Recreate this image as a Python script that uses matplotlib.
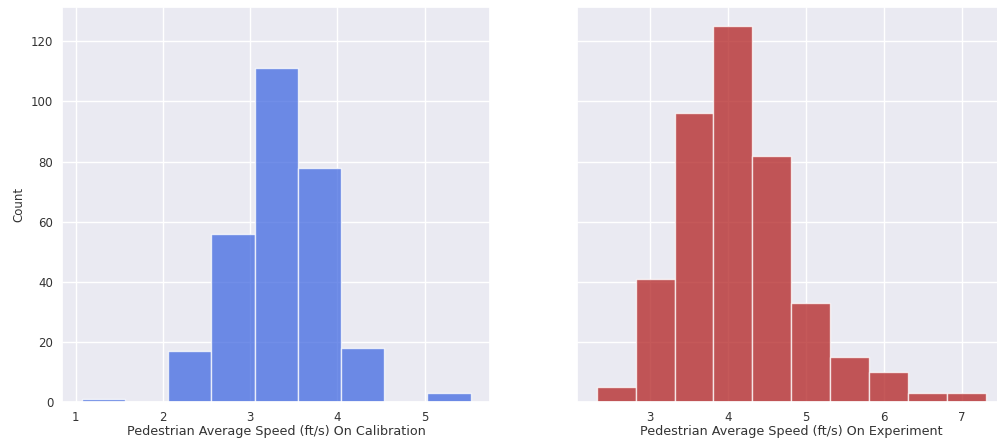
import numpy as np
import matplotlib
matplotlib.use("Agg")
import matplotlib.pyplot as plt
import seaborn as sns

# Data
calib_edges = [1.07, 1.565, 2.06, 2.555, 3.05, 3.545, 4.04, 4.535, 5.03, 5.525]
calib_counts = [1, 0, 17, 56, 111, 78, 18, 0, 3]
exp_edges = [2.32, 2.818, 3.316, 3.814, 4.312, 4.81, 5.308, 5.806, 6.304, 6.802, 7.30]
exp_counts = [5, 41, 96, 125, 82, 33, 15, 10, 3, 3]
xlabel_left = "Pedestrian Average Speed (ft/s) On Calibration"
xlabel_right = "Pedestrian Average Speed (ft/s) On Experiment"
ylabel = "Count"

sns.set_theme(style="darkgrid")
plt.rcParams['font.family'] = ['DejaVu Sans']

fig = plt.figure(figsize=(9.97, 4.38), dpi=100)
W, H = 997, 438
bottom = (H - 402.3) / H
height = 395.0 / H
ax1 = fig.add_axes([62.3 / W, bottom, 427.7 / W, height])
ax2 = fig.add_axes([577.3 / W, bottom, 427.7 / W, height], sharey=ax1)


def draw(ax, edges, counts, color):
    e = np.asarray(edges)
    ax.bar(e[:-1], counts, width=np.diff(e), align='edge', color=color,
           alpha=0.75, edgecolor='white', linewidth=1.0)


draw(ax1, calib_edges, calib_counts, 'royalblue')
draw(ax2, exp_edges, exp_counts, 'firebrick')

for ax in (ax1, ax2):
    ax.tick_params(labelsize=8.5, colors='#333333', pad=0.5)
ax1.set_xlabel(xlabel_left, fontsize=9.2, color='#333333', labelpad=0.5)
ax2.set_xlabel(xlabel_right, fontsize=9.2, color='#333333', labelpad=0.5)
ax1.set_ylabel(ylabel, fontsize=8.5, color='#333333')
ax1.set_yticks([0, 20, 40, 60, 80, 100, 120])
plt.setp(ax2.get_yticklabels(), visible=False)
ax1.set_ylim(0, 131.25)

fig.savefig("out.png", dpi=100)
